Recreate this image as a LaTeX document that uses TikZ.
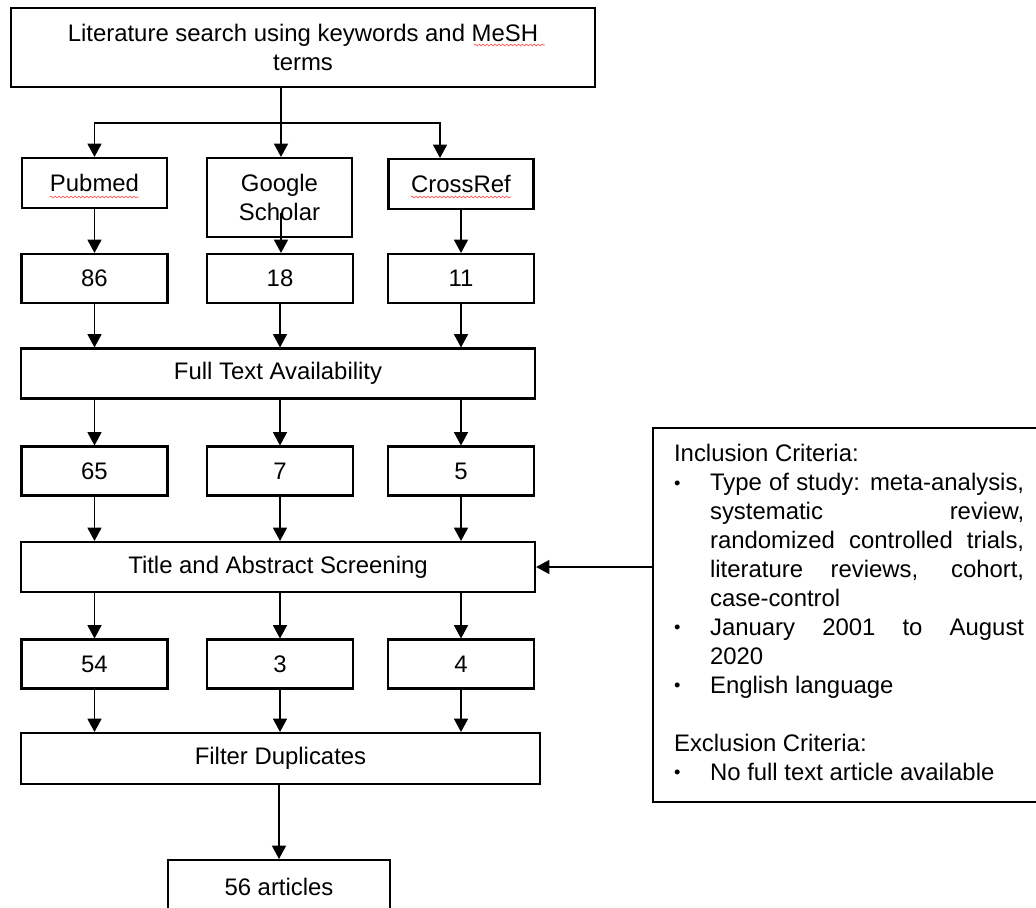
\documentclass[tikz,border=0pt]{standalone}
\usepackage{fontspec}
\setmainfont{Liberation Sans}
\usetikzlibrary{arrows.meta,calc,decorations.pathmorphing}

\newcommand{\fullline}[1]{\makebox[\linewidth][s]{#1}}
\newcommand{\critdot}{\raisebox{1pt}{\fontsize{13}{13}\selectfont\textbullet}}

\begin{document}
\begin{tikzpicture}[x=0.025cm,y=-0.025cm,
    font=\fontsize{17}{20.6}\selectfont,
    >={Triangle[width=0.35cm,length=0.33cm]},
    spell/.style={draw=red!65,line width=0.5pt,decorate,
        decoration={snake,amplitude=0.6pt,segment length=2.8pt}}]
\useasboundingbox (0,0) rectangle (1036,907);
\clip (0,0) rectangle (1036,907);
% search and sources
\begin{scope}[every node/.style={rectangle,draw,line width=1.5pt,inner sep=0pt,align=center,
              minimum width=3.625cm,minimum height=1.25cm}]
    \node[minimum width=14.6cm,minimum height=1.975cm] (lit) at (303,47.5) {Literature search using keywords and MeSH\\terms};
    \node (pub) at (94.5,183) {Pubmed};
    \node[minimum height=1.975cm] (gs) at (279.5,197.5) {Google\\Scholar};
    \node (cr) at (461,184) {CrossRef};
\end{scope}
% counts
\begin{scope}[every node/.style={rectangle,draw,line width=1.5pt,minimum width=3.65cm,minimum height=1.225cm}]
    \node (n86) at (94.5,278.5) {86};
    \node (n18) at (280,278.5) {18};
    \node (n11) at (461,278.5) {11};
    \node (n65) at (94.5,471) {65};
    \node (n7) at (280,471) {7};
    \node (n5) at (461,471) {5};
    \node (n54) at (94.5,664) {54};
    \node (n3) at (280,664) {3};
    \node (n4) at (461,664) {4};
\end{scope}
% screening stages
\begin{scope}[every node/.style={rectangle,draw,line width=1.5pt,minimum width=12.85cm,minimum height=1.25cm}]
    \node (fta) at (278,373.5) {Full Text Availability};
    \node (tas) at (278,567) {Title and Abstract Screening};
    \node[minimum width=12.975cm,minimum height=1.275cm] (fd) at (280.5,758.5) {Filter Duplicates};
    \node[minimum width=5.55cm,minimum height=1.35cm] (art) at (279,887) {56 articles};
\end{scope}
% criteria
\node[draw,line width=1.5pt,anchor=north west,inner xsep=0.525cm,inner ysep=0.33cm] (crit) at (652,427) {%
\begin{tabular}{@{}p{0.9cm}@{}p{7.85cm}@{}}
\multicolumn{2}{@{}l@{}}{Inclusion Criteria:}\\
\critdot & \fullline{Type of study: meta-analysis,}\\
 & \fullline{systematic review,}\\
 & \fullline{randomized controlled trials,}\\
 & \fullline{literature reviews, cohort,}\\
 & case-control\\
\critdot & \fullline{January 2001 to August}\\
 & 2020\\
\critdot & English language\\
 & \\
\multicolumn{2}{@{}l@{}}{Exclusion Criteria:}\\
\critdot & No full text article available
\end{tabular}};
% arrows
\begin{scope}[line width=0.75pt,every edge/.style={draw,line width=0.75pt}]
    \coordinate (split) at (281,123);
    \coordinate (crtop) at (440,123);
    \coordinate (gsin) at (281,213);
    \draw (lit.south -| split) -- (split);
    \draw [->] (split) -| (pub.north);
    \draw [->] (split) -- (split |- gs.north);
    \draw [->] (split) -- (crtop) -- (crtop |- cr.north);
    \path [->] (pub) edge (n86);
    \path [->] (gsin) edge (gsin |- n18.north);
    \path [->] (cr) edge (n11);
    \path [->] (n86) edge (n86 |- fta.north);
    \path [->] (n18) edge (n18 |- fta.north);
    \path [->] (n11) edge (n11 |- fta.north);
    \path [->] (n65 |- fta.south) edge (n65);
    \path [->] (n7 |- fta.south) edge (n7);
    \path [->] (n5 |- fta.south) edge (n5);
    \path [->] (n65) edge (n65 |- tas.north);
    \path [->] (n7) edge (n7 |- tas.north);
    \path [->] (n5) edge (n5 |- tas.north);
    \path [->] (n54 |- tas.south) edge (n54);
    \path [->] (n3 |- tas.south) edge (n3);
    \path [->] (n4 |- tas.south) edge (n4);
    \path [->] (n54) edge (n54 |- fd.north);
    \path [->] (n3) edge (n3 |- fd.north);
    \path [->] (n4) edge (n4 |- fd.north);
    \path [->] (art |- fd.south) edge (art);
    \draw [->] (crit.west |- tas) -- (tas.east);
\end{scope}
% spelling marks
\draw [spell] ($(pub.center)+(-44.5,14)$) -- ++(89,0);
\draw [spell] ($(cr.center)+(-50,13)$) -- ++(100,0);
\draw [spell] ($(lit.center)+(171,-2.5)$) -- ++(71,0);
\end{tikzpicture}
\end{document}
